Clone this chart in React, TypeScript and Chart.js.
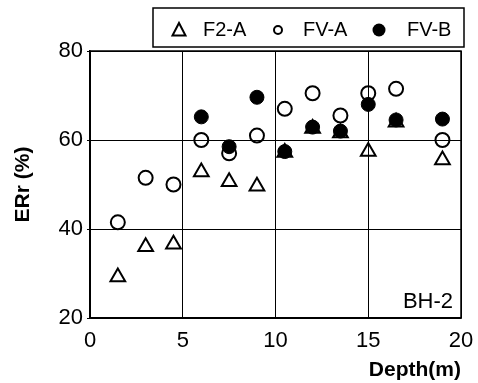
import React, { useEffect, useRef } from 'react';
import { Chart, registerables } from 'chart.js';

Chart.register(...registerables);

// Depth (m) for each sampling point
const depthA: number[] = [1.5, 3, 4.5, 6, 7.5, 9, 10.5, 12, 13.5, 15, 16.5, 19];
const depthB: number[] = [6, 7.5, 9, 10.5, 12, 13.5, 15, 16.5, 19];
// ERr (%) values
const f2A: number[] = [29.2, 36, 36.6, 52.8, 50.6, 49.6, 57.2, 62.6, 61.6, 57.4, 64, 55.5];
const fvA: number[] = [41.5, 51.5, 50, 60, 57, 61, 67, 70.5, 65.5, 70.5, 71.5, 60];
const fvB: number[] = [65.2, 58.5, 69.6, 57.4, 62.9, 62, 68, 64.5, 64.7];
const seriesNames: string[] = ['F2-A', 'FV-A', 'FV-B'];
const xTickValues: number[] = [0, 5, 10, 15, 20];
const yTickValues: number[] = [20, 40, 60, 80];
const panelLabel = 'BH-2';
const xTitle = 'Depth(m)';
const yTitle = 'ERr (%)';

const FONT = '"Liberation Sans", Arial, sans-serif';

const toPoints = (xs: number[], ys: number[]) => xs.map((x, i) => ({ x, y: ys[i] }));

const framePlugin = {
  id: 'frameAndLegend',
  afterDraw(chart: any) {
    const { ctx, chartArea } = chart;
    ctx.save();
    // plot frame
    ctx.strokeStyle = '#000';
    ctx.lineWidth = 1.5;
    ctx.strokeRect(chartArea.left, chartArea.top, chartArea.right - chartArea.left, chartArea.bottom - chartArea.top);

    // legend box
    const boxRight = chartArea.right + 3;
    const boxLeft = boxRight - 311;
    const boxTop = 8;
    const boxBottom = 47;
    ctx.lineWidth = 1.5;
    ctx.strokeRect(boxLeft, boxTop, boxRight - boxLeft, boxBottom - boxTop);
    const cy = 30;
    ctx.font = `20px ${FONT}`;
    ctx.fillStyle = '#000';
    ctx.textBaseline = 'middle';
    ctx.textAlign = 'left';
    // triangle
    const tx = boxLeft + 26;
    ctx.lineWidth = 2;
    ctx.beginPath();
    ctx.moveTo(tx, cy - 7);
    ctx.lineTo(tx + 6.5, cy + 5.5);
    ctx.lineTo(tx - 6.5, cy + 5.5);
    ctx.closePath();
    ctx.stroke();
    ctx.fillText(seriesNames[0], boxLeft + 50, cy);
    // open circle
    ctx.beginPath();
    ctx.arc(boxLeft + 125, cy, 4, 0, Math.PI * 2);
    ctx.stroke();
    ctx.fillText(seriesNames[1], boxLeft + 150, cy);
    // filled circle
    ctx.beginPath();
    ctx.arc(boxLeft + 226, cy, 6.5, 0, Math.PI * 2);
    ctx.fill();
    ctx.fillText(seriesNames[2], boxLeft + 254, cy);

    // panel label
    ctx.font = `22px ${FONT}`;
    ctx.textAlign = 'right';
    ctx.fillText(panelLabel, chartArea.right - 8, chartArea.bottom - 16);
    ctx.restore();
  },
};

export default function App() {
  const canvasRef = useRef<HTMLCanvasElement | null>(null);

  useEffect(() => {
    if (!canvasRef.current) return;
    const chart = new Chart(canvasRef.current, {
      type: 'scatter',
      data: {
        datasets: [
          {
            label: seriesNames[2],
            data: toPoints(depthB, fvB),
            pointStyle: 'circle',
            pointRadius: 7,
            backgroundColor: '#000',
            borderColor: '#000',
            borderWidth: 1,
          },
          {
            label: seriesNames[1],
            data: toPoints(depthA, fvA),
            pointStyle: 'circle',
            pointRadius: 7,
            backgroundColor: 'rgba(0,0,0,0)',
            borderColor: '#000',
            borderWidth: 2,
          },
          {
            label: seriesNames[0],
            data: toPoints(depthA, f2A),
            pointStyle: 'triangle',
            pointRadius: 8.5,
            backgroundColor: 'rgba(0,0,0,0)',
            borderColor: '#000',
            borderWidth: 2,
          },
        ],
      },
      options: {
        responsive: false,
        animation: false,
        events: [],
        layout: { padding: { top: 51, right: 17, left: 0, bottom: 0 } },
        plugins: {
          legend: { display: false },
          tooltip: { enabled: false },
        },
        scales: {
          x: {
            type: 'linear',
            min: 0,
            max: 20,
            afterFit: (s: any) => { s.height = 65; s.paddingLeft = 0; s.paddingRight = 0; },
            afterBuildTicks: (s: any) => { s.ticks = xTickValues.map((v) => ({ value: v })); },
            ticks: { color: '#000', font: { family: FONT, size: 22 }, padding: 10, maxRotation: 0 },
            grid: { color: '#000', lineWidth: 1, drawTicks: false },
            border: { display: true, color: '#000', width: 1.5 },
            title: {
              display: true,
              text: xTitle,
              align: 'end',
              color: '#000',
              font: { family: FONT, size: 21, weight: 'bold' },
              padding: { top: 0, bottom: 0 },
            },
          },
          y: {
            type: 'linear',
            min: 20,
            max: 80,
            afterFit: (s: any) => { s.width = 90; s.paddingTop = 0; s.paddingBottom = 0; },
            afterBuildTicks: (s: any) => { s.ticks = yTickValues.map((v) => ({ value: v })); },
            ticks: { color: '#000', font: { family: FONT, size: 22 }, padding: 4 },
            grid: { color: '#000', lineWidth: 1, drawTicks: true, tickLength: 3 },
            border: { display: true, color: '#000', width: 1.5 },
            title: {
              display: true,
              text: yTitle,
              color: '#000',
              font: { family: FONT, size: 21, weight: 'bold' },
              padding: { top: 11, bottom: 0 },
            },
          },
        },
      },
      plugins: [framePlugin],
    } as any);
    return () => chart.destroy();
  }, []);

  return (
    <div style={{ position: 'fixed', left: 0, top: 0, width: 478, height: 383, background: '#fff' }}>
      <canvas ref={canvasRef} width={478} height={383} />
    </div>
  );
}
